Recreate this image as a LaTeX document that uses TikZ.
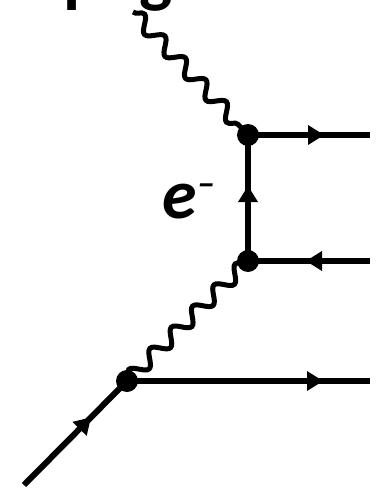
\documentclass[tikz,border=0pt]{standalone}
\usepackage{fontspec}
\setmainfont{Carlito}
\usetikzlibrary{decorations.pathmorphing,decorations.markings}
\tikzset{
  vertexdot/.style={circle,fill=black,inner sep=0pt,minimum size=22pt},
  fermion/.style={line width=6pt,draw=black},
  photon/.style={line width=5pt,draw=black,decorate,decoration={snake,amplitude=7pt,segment length=30pt,pre length=0pt,post length=0pt}},
  tipat/.style={postaction={decorate,decoration={markings,mark=at position #1 with {\fill[black] (1pt,0pt) -- (-15pt,10pt) -- (-15pt,-10pt) -- cycle;}}}},
  biglabel/.style={inner sep=0pt,font=\fontsize{70pt}{70pt}\selectfont\bfseries,anchor=base}
}
\begin{document}
\begin{tikzpicture}[x=1pt,y=-1pt]
\useasboundingbox (0,0) rectangle (376,489);
\clip (0,0) rectangle (376,489);
\coordinate (top) at (133,12);
\coordinate (in) at (24,485);
\coordinate (r1) at (370,135);
\coordinate (r2) at (370,261);
\coordinate (r3) at (370,381);
\node[vertexdot] (A) at (248,135) {};
\node[vertexdot] (B) at (248,261) {};
\node[vertexdot] (C) at (127,381) {};
\draw[photon] (top) -- (A.center);
\draw[photon] (C.center) -- (B.center);
\draw[fermion,tipat=75pt] (A.center) -- (r1);
\draw[fermion,tipat=63pt] (r2) -- (B.center);
\draw[fermion,tipat=74pt] (B.center) -- (A.center);
\draw[fermion,tipat=195pt] (C.center) -- (r3);
\draw[fermion,tipat=94pt] (in) -- (C.center);
\node[biglabel] (lp) at (82,0) {p};
\node[biglabel] (lg) at (156,0) {g};
\node[biglabel,font=\fontsize{70pt}{70pt}\selectfont\bfseries\itshape] (le) at (189,218) {e\raisebox{23pt}{\fontsize{36pt}{36pt}\selectfont –}};
\end{tikzpicture}
\end{document}
